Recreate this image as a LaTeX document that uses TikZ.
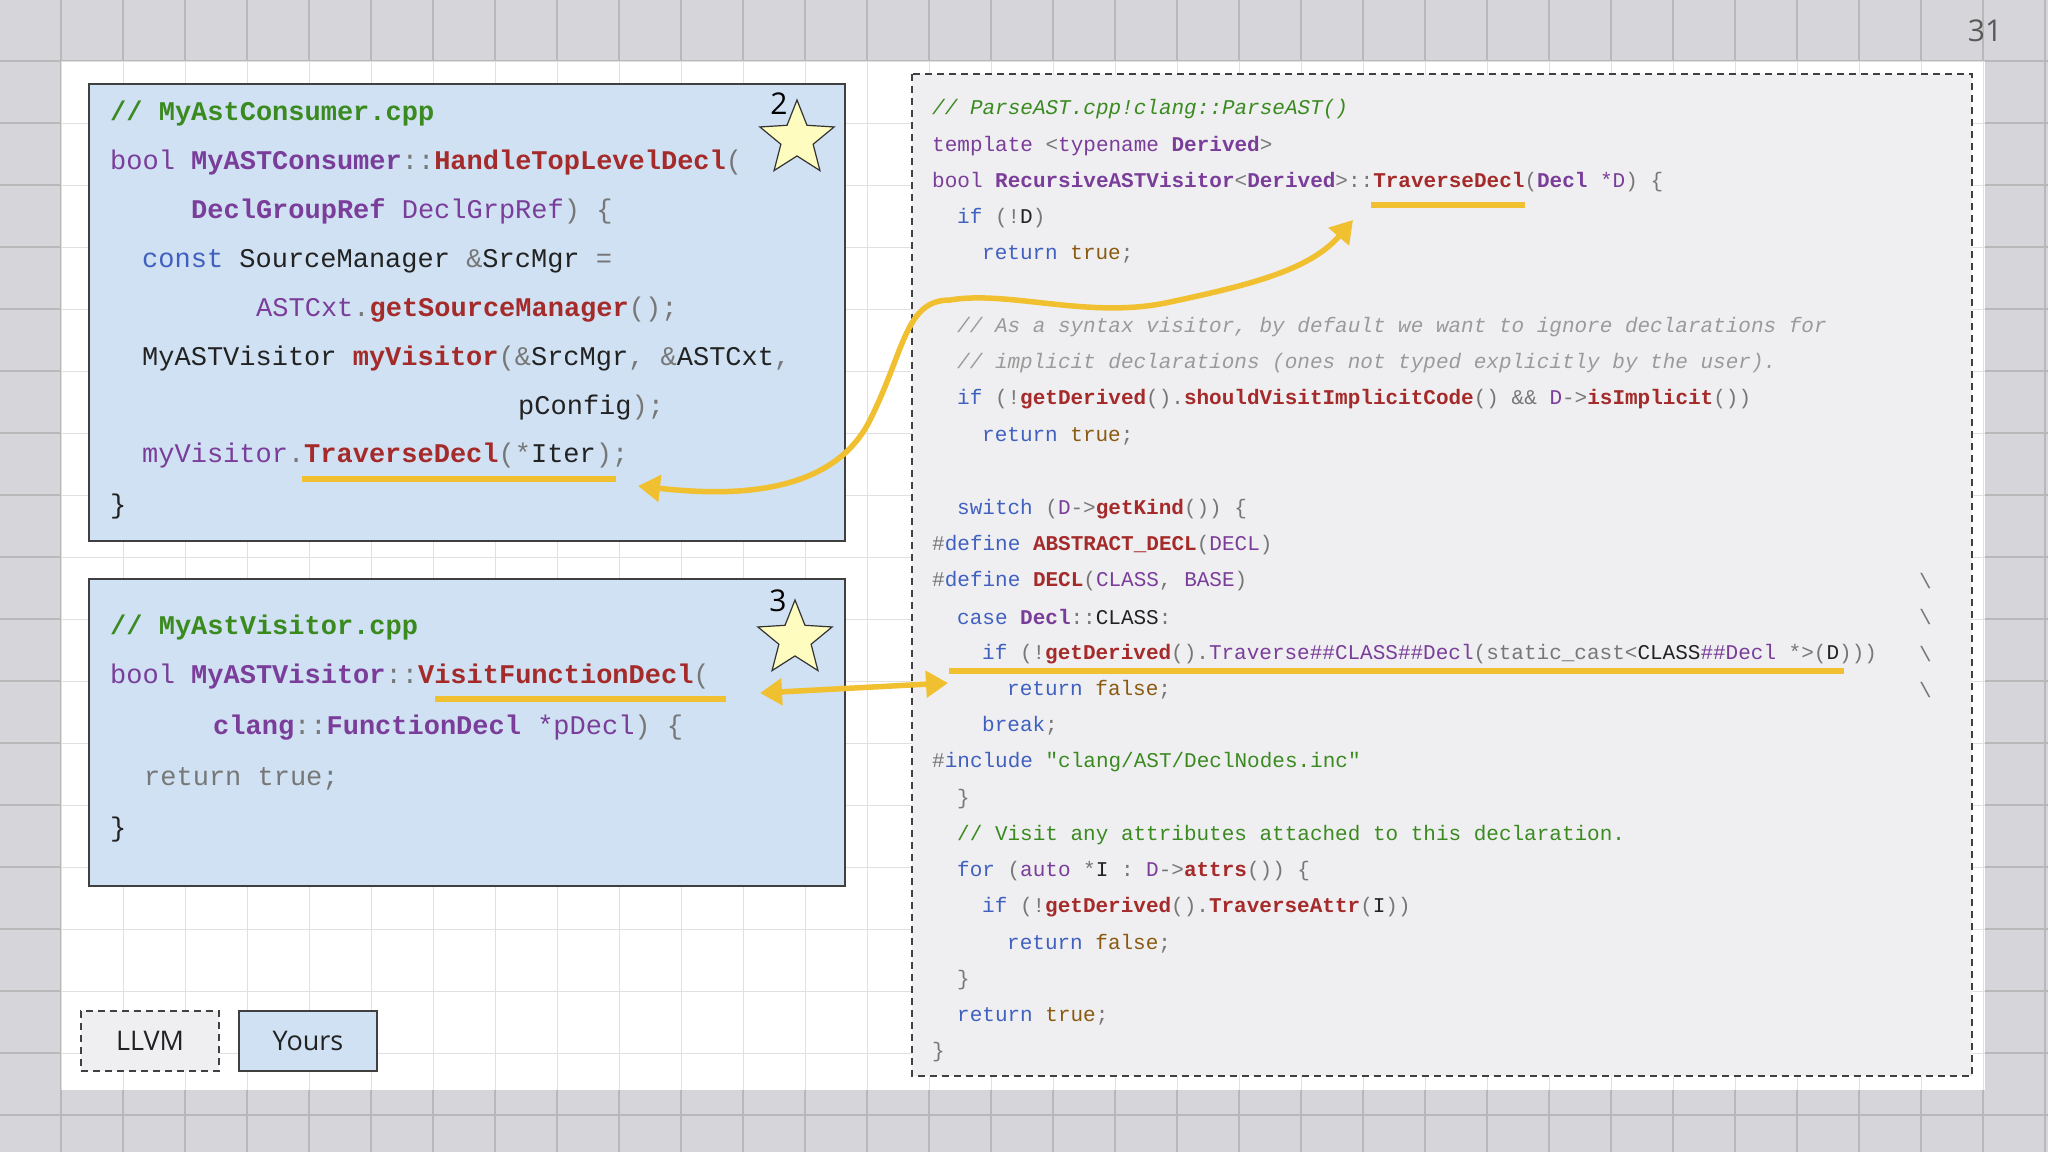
\documentclass[tikz,border=0pt]{standalone}
\usepackage{fontspec}
\setmainfont{Open Sans}
\setmonofont{Liberation Mono}
\usetikzlibrary{shapes.geometric,arrows.meta}
\definecolor{cgreen}{HTML}{3A8A20}
\definecolor{cpurple}{HTML}{7A3D9A}
\definecolor{cred}{HTML}{A52A2A}
\definecolor{ckey}{HTML}{4060C0}
\definecolor{cgray}{HTML}{777777}
\definecolor{ctext}{HTML}{222222}
\definecolor{cbrown}{HTML}{8A5A10}
\definecolor{ccom}{HTML}{9A9A9A}
\definecolor{boxblue}{HTML}{CFE1F2}
\definecolor{llvmbg}{HTML}{EFEFF1}
\definecolor{hl}{HTML}{F0C030}
\definecolor{outerbg}{HTML}{D6D6DA}
\newcommand\Cg[1]{\textcolor{cgreen}{#1}}
\newcommand\Cp[1]{\textcolor{cpurple}{#1}}
\newcommand\Cr[1]{\textcolor{cred}{#1}}
\newcommand\Ck[1]{\textcolor{ckey}{#1}}
\newcommand\Co[1]{\textcolor{cgray}{#1}}
\newcommand\Cb[1]{\textcolor{cbrown}{#1}}
\newcommand\Cc[1]{\textcolor{ccom}{\itshape #1}}
\begin{document}
\begin{tikzpicture}[x=1pt,y=-1pt,
  bigcode/.style={anchor=west,inner sep=0,font=\ttfamily\fontsize{27}{27}\selectfont,text=ctext},
  smallcode/.style={anchor=west,inner sep=0,font=\ttfamily\fontsize{21}{21}\selectfont,text=ctext},
  mine/.style={draw=black!75,line width=1.6pt,fill=boxblue},
  uline/.style={hl,line width=6pt},
  starry/.style={star,star points=5,star point ratio=2.3,draw=black!80,line width=1.2pt,fill=yellow!25!white,minimum size=78pt,inner sep=0},
  legend/.style={minimum width=138pt,minimum height=60pt,font=\fontsize{27}{27}\selectfont,text=ctext}]
\useasboundingbox (0,0) rectangle (2048,1152);
\fill[outerbg] (0,0) rectangle (2048,1152);
\foreach \i in {0,...,33} {\draw[black!28,line width=1.2pt] (\i*62-1,0) -- (\i*62-1,1152);}
\foreach \i in {0,...,18} {\draw[black!28,line width=1.2pt] (0,\i*62-1) -- (2048,\i*62-1);}
\fill[white] (61,61) rectangle (1985,1090);
\begin{scope}
\clip (61,61) rectangle (1985,1090);
\foreach \i in {1,...,32} {\draw[black!12,line width=1pt] (\i*62-1,61) -- (\i*62-1,1090);}
\foreach \i in {1,...,17} {\draw[black!12,line width=1pt] (61,\i*62-1) -- (1985,\i*62-1);}
\end{scope}
\node[anchor=center,font=\fontsize{30}{30}\selectfont,text=black!65] (pg) at (1985,31) {31};

% left boxes
\draw[mine] (89,84) rectangle (845,541);
\draw[mine] (89,579) rectangle (845,886);
% right box
\draw[black!75,dashed,line width=1.4pt,fill=llvmbg,dash pattern=on 7pt off 5pt] (912,74) rectangle (1972,1076);

% box 1 code
\node[bigcode] (a1) at (110,114) {\Cg{\bfseries // MyAstConsumer.cpp}};
\node[bigcode] (a2) at (110,163) {\Cp{bool} \Cp{\bfseries MyASTConsumer}\Co{::}\Cr{\bfseries HandleTopLevelDecl}\Co{(}};
\node[bigcode] (a3) at (191,211) {\Cp{\bfseries DeclGroupRef} \Cp{DeclGrpRef}\Co{) \{}};
\node[bigcode] (a4) at (142,261) {\Ck{const} SourceManager \Co{\&}SrcMgr \Co{=}};
\node[bigcode] (a5) at (256,310) {\Cp{ASTCxt}\Co{.}\Cr{\bfseries getSourceManager}\Co{();}};
\node[bigcode] (a6) at (142,359) {MyASTVisitor \Cr{\bfseries myVisitor}\Co{(\&}SrcMgr\Co{, \&}ASTCxt\Co{,}};
\node[bigcode] (a7) at (518,408) {pConfig\Co{);}};
\node[bigcode] (a8) at (142,456) {\Cp{myVisitor}\Co{.}\Cr{\bfseries TraverseDecl}\Co{(*}Iter\Co{);}};
\node[bigcode] (a9) at (110,507) {\}};

% box 2 code
\node[bigcode] (b1) at (110,628) {\Cg{\bfseries // MyAstVisitor.cpp}};
\node[bigcode] (b2) at (110,677) {\Cp{bool} \Cp{\bfseries MyASTVisitor}\Co{::}\Cr{\bfseries VisitFunctionDecl}\Co{(}};
\node[bigcode] (b3) at (213,728) {\Cp{\bfseries clang}\Co{::}\Cp{\bfseries FunctionDecl} \Cp{*pDecl}\Co{) \{}};
\node[bigcode] (b4) at (144,779) {\Co{return true;}};
\node[bigcode] (b5) at (110,830) {\}};

% right code
\node[smallcode] (r1) at (932,109) {\Cg{\itshape // ParseAST.cpp!clang::ParseAST()}};
\node[smallcode] (r2) at (932,146) {\Cp{template} \Co{<}\Cp{typename} \Cp{\bfseries Derived}\Co{>}};
\node[smallcode] (r3) at (932,182) {\Cp{bool} \Cp{\bfseries RecursiveASTVisitor}\Co{<}\Cp{\bfseries Derived}\Co{>::}\Cr{\bfseries TraverseDecl}\Co{(}\Cp{\bfseries Decl} \Cp{*D}\Co{) \{}};
\node[smallcode] (r4) at (957,218) {\Ck{if} \Co{(!}D\Co{)}};
\node[smallcode] (r5) at (982,254) {\Ck{return} \Cb{true}\Co{;}};
\node[smallcode] (r6) at (957,327) {\Cc{// As a syntax visitor, by default we want to ignore declarations for}};
\node[smallcode] (r7) at (957,363) {\Cc{// implicit declarations (ones not typed explicitly by the user).}};
\node[smallcode] (r8) at (957,399) {\Ck{if} \Co{(!}\Cr{\bfseries getDerived}\Co{().}\Cr{\bfseries shouldVisitImplicitCode}\Co{() \&\&} \Cp{D}\Co{->}\Cr{\bfseries isImplicit}\Co{())}};
\node[smallcode] (r9) at (982,436) {\Ck{return} \Cb{true}\Co{;}};
\node[smallcode] (r10) at (957,509) {\Ck{switch} \Co{(}\Cp{D}\Co{->}\Cr{\bfseries getKind}\Co{()) \{}};
\node[smallcode] (r11) at (932,545) {\Co{\#}\Ck{define} \Cr{\bfseries ABSTRACT\_DECL}\Co{(}\Cp{DECL}\Co{)}};
\node[smallcode] (r12) at (932,581) {\Co{\#}\Ck{define} \Cr{\bfseries DECL}\Co{(}\Cp{CLASS}\Co{,} \Cp{BASE}\Co{)}};
\node[smallcode] (r13) at (957,617) {\Ck{case} \Cp{\bfseries Decl}\Co{::}CLASS\Co{:}};
\node[smallcode] (r14) at (982,654) {\Ck{if} \Co{(!}\Cr{\bfseries getDerived}\Co{().}\Cp{Traverse\#\#CLASS\#\#Decl}\Co{(static\_cast<}CLASS\Cp{\#\#Decl} \Co{*>(}D\Co{)))}};
\node[smallcode] (r15) at (1007,690) {\Ck{return} \Cb{false}\Co{;}};
\node[smallcode] (r16) at (982,726) {\Ck{break}\Co{;}};
\node[smallcode] (r17) at (932,762) {\Co{\#}\Ck{include} \Cg{"clang/AST/DeclNodes.inc"}};
\node[smallcode] (r18) at (957,799) {\Co{\}}};
\node[smallcode] (r19) at (957,835) {\Cg{// Visit any attributes attached to this declaration.}};
\node[smallcode] (r20) at (957,871) {\Ck{for} \Co{(}\Cp{auto} \Co{*}I \Co{:} \Cp{D}\Co{->}\Cr{\bfseries attrs}\Co{()) \{}};
\node[smallcode] (r21) at (982,907) {\Ck{if} \Co{(!}\Cr{\bfseries getDerived}\Co{().}\Cr{\bfseries TraverseAttr}\Co{(}I\Co{))}};
\node[smallcode] (r22) at (1007,944) {\Ck{return} \Cb{false}\Co{;}};
\node[smallcode] (r23) at (957,980) {\Co{\}}};
\node[smallcode] (r24) at (957,1016) {\Ck{return} \Cb{true}\Co{;}};
\node[smallcode] (r25) at (932,1052) {\Co{\}}};
\foreach \yy/\nm in {581/s1,617/s2,654/s3,690/s4} {\node[smallcode,text=cgray] (\nm) at (1919,\yy) {\textbackslash};}

% stars
\node[starry] (st1) at (797,139) {};
\node[font=\fontsize{30}{30}\selectfont,text=black] (n2) at (779,104) {2};
\node[starry] (st2) at (795,639) {};
\node[font=\fontsize{30}{30}\selectfont,text=black] (n3) at (778,601) {3};

% underlines
\coordinate (u1a) at (302,479); \coordinate (u1b) at (616,479);
\coordinate (u2a) at (1371,205); \coordinate (u2b) at (1525,205);
\coordinate (u3a) at (949,671); \coordinate (u3b) at (1844,671);
\coordinate (u4a) at (435,699); \coordinate (u4b) at (726,699);
\draw[uline] (u1a) -- (u1b);
\draw[uline] (u2a) -- (u2b);
\draw[uline] (u3a) -- (u3b);
\draw[uline] (u4a) -- (u4b);

% arrows
\coordinate (pA) at (638,486);
\coordinate (pB) at (1353,220);
\draw[hl,line width=5.5pt,{Triangle[length=22pt,width=26pt]}-{Triangle[length=22pt,width=26pt]}]
  (pA) .. controls (720,495) and (830,500) .. (870,420)
  .. controls (905,350) and (905,300) .. (950,300)
  .. controls (1010,290) and (1090,320) .. (1170,302)
  .. controls (1250,285) and (1310,270) .. (pB);
\coordinate (qA) at (760,693);
\coordinate (qB) at (948,683);
\draw[hl,line width=5.5pt,{Triangle[length=22pt,width=26pt]}-{Triangle[length=22pt,width=26pt]}] (qA) -- (qB);

% legend
\node[legend,draw=black!75,dashed,line width=1.4pt,fill=llvmbg,dash pattern=on 7pt off 5pt] (llvm) at (150,1041) {LLVM};
\node[legend,draw=black!75,line width=1.6pt,fill=boxblue] (yours) at (308,1041) {Yours};
\end{tikzpicture}
\end{document}
